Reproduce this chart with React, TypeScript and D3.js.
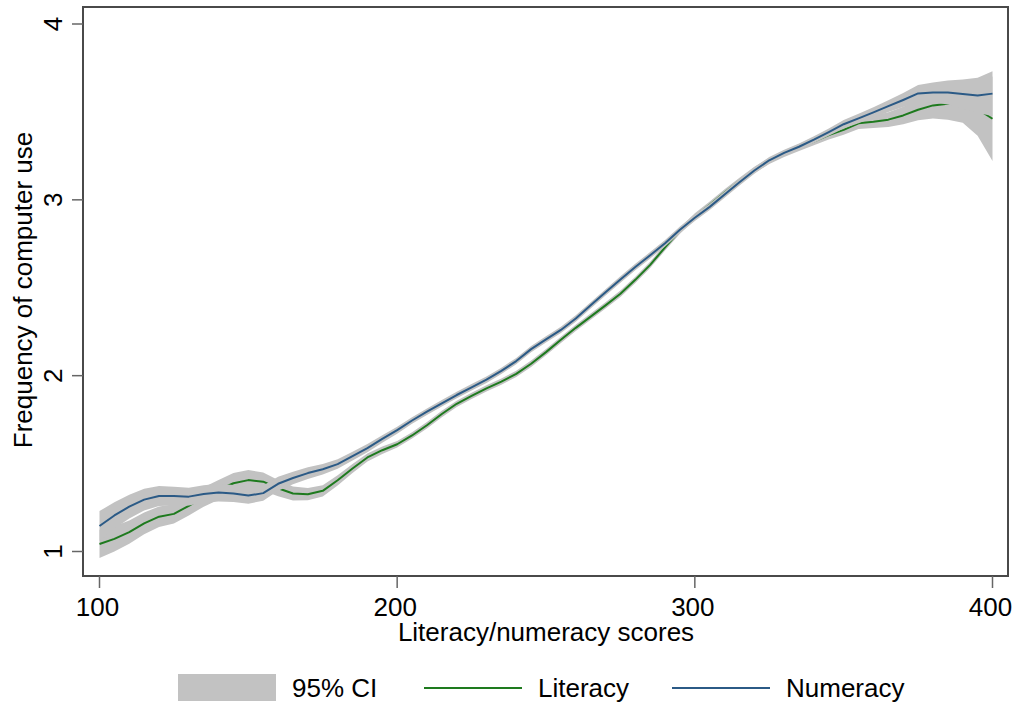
import React from 'react';
import * as d3 from 'd3';

const scores = [100,105,110,115,120,125,130,135,140,145,150,155,160,165,170,175,180,185,190,195,200,205,210,215,220,225,230,235,240,245,250,255,260,265,270,275,280,285,290,295,300,305,310,315,320,325,330,335,340,345,350,355,360,365,370,375,380,385,390,395,400];

const literacy = [1.043,1.072,1.110,1.160,1.198,1.214,1.260,1.310,1.350,1.388,1.406,1.397,1.360,1.330,1.326,1.345,1.405,1.472,1.535,1.576,1.610,1.660,1.718,1.782,1.840,1.885,1.928,1.966,2.010,2.068,2.134,2.204,2.272,2.336,2.400,2.466,2.545,2.630,2.730,2.825,2.905,2.972,3.042,3.108,3.170,3.222,3.262,3.298,3.332,3.368,3.398,3.435,3.444,3.456,3.480,3.512,3.537,3.546,3.548,3.515,3.461];
const literacyLow = [0.963,1.000,1.044,1.098,1.140,1.159,1.205,1.255,1.294,1.330,1.348,1.345,1.314,1.290,1.291,1.313,1.376,1.446,1.512,1.555,1.591,1.642,1.700,1.764,1.822,1.867,1.910,1.948,1.992,2.050,2.116,2.186,2.254,2.318,2.382,2.448,2.527,2.612,2.712,2.807,2.887,2.954,3.024,3.090,3.152,3.204,3.244,3.278,3.310,3.343,3.370,3.403,3.408,3.414,3.430,3.452,3.462,3.456,3.438,3.365,3.221];
const literacyHigh = [1.123,1.144,1.176,1.222,1.256,1.269,1.315,1.365,1.406,1.446,1.464,1.449,1.406,1.370,1.361,1.377,1.434,1.498,1.558,1.597,1.629,1.678,1.736,1.800,1.858,1.903,1.946,1.984,2.028,2.086,2.152,2.222,2.290,2.354,2.418,2.484,2.563,2.648,2.748,2.843,2.923,2.990,3.060,3.126,3.188,3.240,3.280,3.318,3.354,3.393,3.426,3.467,3.480,3.498,3.530,3.572,3.612,3.636,3.658,3.665,3.701];

const numeracy = [1.145,1.205,1.255,1.295,1.316,1.315,1.312,1.327,1.335,1.330,1.318,1.332,1.385,1.418,1.446,1.468,1.497,1.543,1.588,1.640,1.690,1.745,1.795,1.843,1.890,1.934,1.977,2.027,2.083,2.151,2.206,2.260,2.325,2.400,2.474,2.547,2.618,2.685,2.753,2.830,2.898,2.960,3.030,3.100,3.167,3.225,3.267,3.302,3.342,3.385,3.430,3.463,3.497,3.533,3.568,3.605,3.611,3.610,3.602,3.594,3.604];
const numeracyLow = [1.060,1.130,1.187,1.233,1.259,1.262,1.262,1.277,1.285,1.282,1.272,1.288,1.345,1.382,1.413,1.438,1.470,1.518,1.565,1.619,1.670,1.727,1.777,1.825,1.872,1.916,1.959,2.009,2.065,2.133,2.188,2.242,2.307,2.382,2.456,2.529,2.600,2.667,2.735,2.812,2.880,2.942,3.012,3.082,3.149,3.207,3.249,3.284,3.323,3.364,3.406,3.436,3.467,3.499,3.528,3.557,3.554,3.542,3.520,3.494,3.477];
const numeracyHigh = [1.230,1.280,1.323,1.357,1.373,1.368,1.362,1.377,1.385,1.378,1.364,1.376,1.425,1.454,1.479,1.498,1.524,1.568,1.611,1.661,1.710,1.763,1.813,1.861,1.908,1.952,1.995,2.045,2.101,2.169,2.224,2.278,2.343,2.418,2.492,2.565,2.636,2.703,2.771,2.848,2.916,2.978,3.048,3.118,3.185,3.243,3.285,3.320,3.361,3.406,3.454,3.490,3.527,3.567,3.608,3.653,3.668,3.678,3.684,3.694,3.731];

const xTicks = [100, 200, 300, 400];
const yTicks = [1, 2, 3, 4];
const legendItems = ['95% CI', 'Literacy', 'Numeracy'];

const W = 1019;
const H = 704;
const FONT = "'Liberation Sans', Arial, Helvetica, sans-serif";
const GREEN = '#1e7a1e';
const BLUE = '#2b5a86';
const BAND = '#c2c2c2';

export default function App() {
  const x = d3.scaleLinear().domain([100, 400]).range([99.5, 992.5]);
  const y = d3.scaleLinear().domain([1, 4]).range([551.5, 24]);
  const frame = { left: 83, right: 1008, top: 7, bottom: 576 };

  const idx = scores.map((_, i) => i);
  const area = (lo: number[], hi: number[]) =>
    d3.area<number>().x(i => x(scores[i])).y0(i => y(lo[i])).y1(i => y(hi[i]))(idx) || '';
  const line = (v: number[]) =>
    d3.line<number>().x(i => x(scores[i])).y(i => y(v[i]))(idx) || '';

  return (
    <svg width={W} height={H} style={{ position: 'absolute', left: 0, top: 0, background: '#fff' }}
      fontFamily={FONT}>
      <rect x={0} y={0} width={W} height={H} fill="#fff" />
      <path d={area(literacyLow, literacyHigh)} fill={BAND} stroke="none" />
      <path d={line(literacy)} fill="none" stroke={GREEN} strokeWidth={2} strokeLinejoin="round" />
      <path d={area(numeracyLow, numeracyHigh)} fill={BAND} stroke="none" />
      <path d={line(numeracy)} fill="none" stroke={BLUE} strokeWidth={2} strokeLinejoin="round" />

      <rect x={frame.left} y={frame.top} width={frame.right - frame.left} height={frame.bottom - frame.top}
        fill="none" stroke="#4a4a4a" strokeWidth={2} />

      {yTicks.map(t => (
        <g key={'y' + t}>
          <line x1={72} x2={frame.left} y1={y(t)} y2={y(t)} stroke="#666" strokeWidth={1.5} />
          <text transform={`translate(62,${y(t)}) rotate(-90)`} textAnchor="middle" fontSize={26} fill="#000">{t}</text>
        </g>
      ))}
      {xTicks.map(t => (
        <g key={'x' + t}>
          <line x1={x(t)} x2={x(t)} y1={frame.bottom} y2={588} stroke="#666" strokeWidth={1.5} />
          <text x={x(t) - 2} y={616} textAnchor="middle" fontSize={26} fill="#000">{t}</text>
        </g>
      ))}
      <text x={546} y={641} textAnchor="middle" fontSize={26} fill="#000">Literacy/numeracy scores</text>
      <text transform="translate(32,290) rotate(-90)" textAnchor="middle" fontSize={26} fill="#000">Frequency of computer use</text>

      <rect x={178} y={674} width={98} height={27} fill={BAND} />
      <text x={292} y={697} fontSize={26} fill="#000">{legendItems[0]}</text>
      <line x1={424} x2={522} y1={688} y2={688} stroke={GREEN} strokeWidth={2} />
      <text x={538} y={697} fontSize={26} fill="#000">{legendItems[1]}</text>
      <line x1={672} x2={770} y1={688} y2={688} stroke={BLUE} strokeWidth={2} />
      <text x={786} y={697} fontSize={26} fill="#000">{legendItems[2]}</text>
    </svg>
  );
}
